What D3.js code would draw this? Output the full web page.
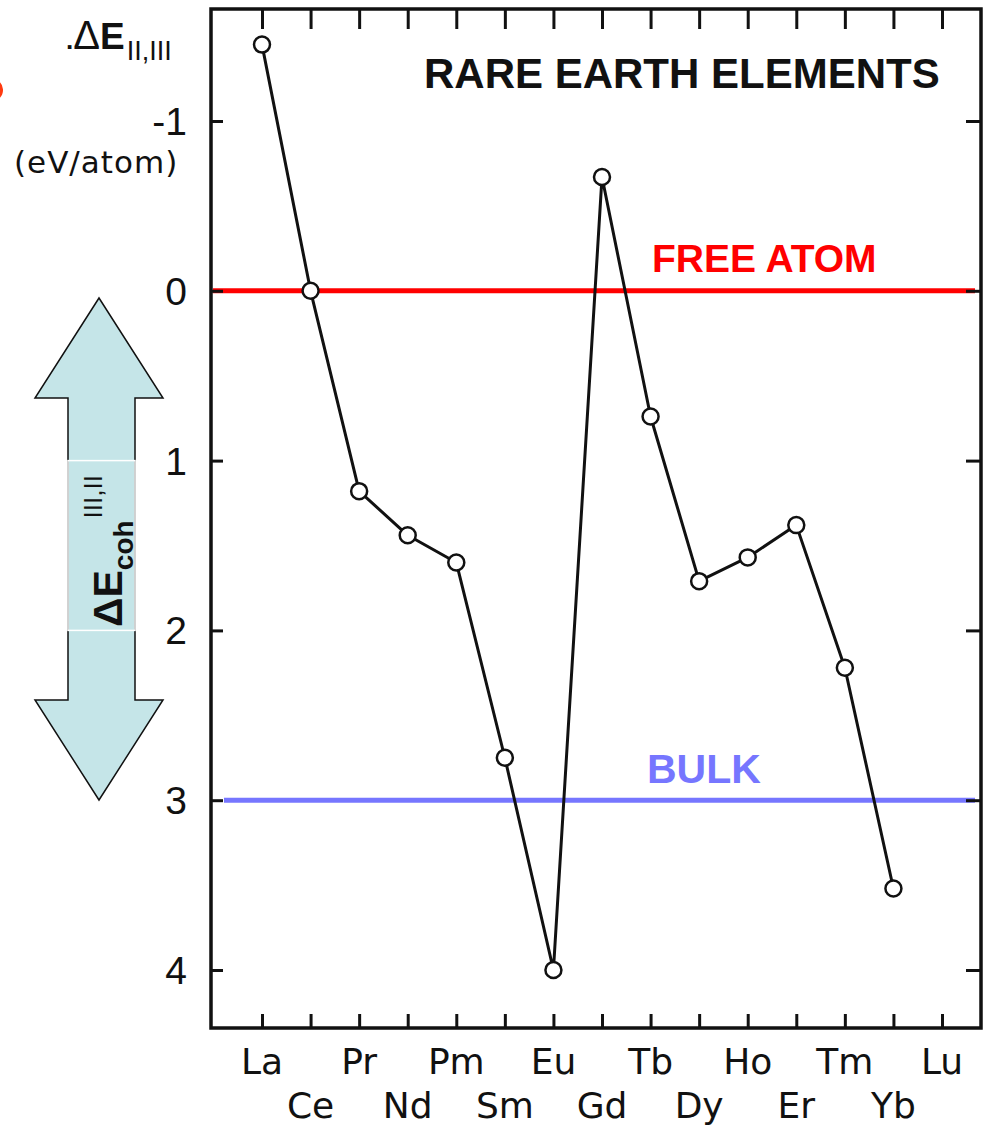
<!DOCTYPE html>
<html>
<head>
<meta charset="utf-8">
<script src="https://cdn.jsdelivr.net/npm/d3@7"></script>
<style>
  html, body { margin: 0; padding: 0; background: #fff; }
  svg { display: block; }
</style>
</head>
<body>
<svg id="chart" width="983" height="1125"></svg>
<script>
// Lanthanide series, La → Lu
const elements = ["La","Ce","Pr","Nd","Pm","Sm","Eu","Gd","Tb","Dy","Ho","Er","Tm","Yb","Lu"];
// ΔE(II,III) in eV/atom (no value for Lu)
const deltaE = [-1.45, 0.0, 1.18, 1.44, 1.60, 2.75, 4.0, -0.67, 0.74, 1.71, 1.57, 1.38, 2.22, 3.52, null];
const yTicks = [-1, 0, 1, 2, 3, 4];
const refLevels = [
  { name: "FREE ATOM", value: 0, color: "#ff0000" },
  { name: "BULK", value: 3, color: "#7676ff" }
];

const svg = d3.select("#chart");
const frame = { left: 211, right: 981, top: 9, bottom: 1028 };

const x = d3.scalePoint().domain(elements).range([262, 942]);
const y = d3.scaleLinear().domain([-1, 4]).range([121, 970]);

const sans = "'Liberation Sans', Arial, Helvetica, sans-serif";
const round = "'DejaVu Sans', Verdana, sans-serif";

// reference levels
const [freeAtom, bulk] = refLevels;
svg.append("line")
  .attr("x1", frame.left + 2).attr("x2", 975)
  .attr("y1", y(freeAtom.value)).attr("y2", y(freeAtom.value))
  .attr("stroke", freeAtom.color).attr("stroke-width", 5);
svg.append("line")
  .attr("x1", 224).attr("x2", 975)
  .attr("y1", y(bulk.value)).attr("y2", y(bulk.value))
  .attr("stroke", bulk.color).attr("stroke-width", 5);

svg.append("text").text(freeAtom.name)
  .attr("x", 652).attr("y", 272)
  .attr("font-family", sans).attr("font-weight", "bold").attr("font-size", 39)
  .attr("fill", freeAtom.color);
svg.append("text").text(bulk.name)
  .attr("x", 647).attr("y", 783)
  .attr("font-family", sans).attr("font-weight", "bold").attr("font-size", 41)
  .attr("fill", bulk.color);

// frame
svg.append("rect")
  .attr("x", frame.left).attr("y", frame.top)
  .attr("width", frame.right - frame.left).attr("height", frame.bottom - frame.top)
  .attr("fill", "none").attr("stroke", "#111").attr("stroke-width", 3.5);

// inward ticks on all four sides
function tickAxis(axis, transform, size) {
  const g = svg.append("g").attr("transform", transform)
    .call(axis.tickSize(size).tickFormat(""));
  g.select(".domain").remove();
  g.selectAll(".tick line").attr("stroke", "#111").attr("stroke-width", 3);
  return g;
}
tickAxis(d3.axisBottom(x), `translate(0,${frame.bottom})`, -14);
tickAxis(d3.axisTop(x), `translate(0,${frame.top})`, -20);
tickAxis(d3.axisLeft(y).tickValues(yTicks), `translate(${frame.left},0)`, -12);
tickAxis(d3.axisRight(y).tickValues(yTicks), `translate(${frame.right},0)`, -15);

// y tick labels
svg.append("g").selectAll("text").data(yTicks).join("text")
  .attr("x", 187).attr("y", d => y(d)).attr("dy", "0.36em")
  .attr("text-anchor", "end")
  .attr("font-family", sans).attr("font-size", 39).attr("fill", "#111")
  .text(d => d);

// category labels, staggered in two rows
svg.append("g").selectAll("text").data(elements).join("text")
  .attr("x", d => x(d))
  .attr("y", (d, i) => i % 2 === 0 ? 1074 : 1118)
  .attr("text-anchor", "middle")
  .attr("font-family", round).attr("font-size", 36).attr("fill", "#111")
  .text(d => d);

// series
const pts = elements.map((e, i) => ({ e, v: deltaE[i] })).filter(d => d.v !== null);
svg.append("path").datum(pts)
  .attr("d", d3.line().x(d => x(d.e)).y(d => y(d.v)))
  .attr("fill", "none").attr("stroke", "#111").attr("stroke-width", 3)
  .attr("stroke-linejoin", "round");
svg.append("g").selectAll("circle").data(pts).join("circle")
  .attr("cx", d => x(d.e)).attr("cy", d => y(d.v)).attr("r", 8)
  .attr("fill", "#fff").attr("stroke", "#111").attr("stroke-width", 2.5);

// title
svg.append("text").text("RARE EARTH ELEMENTS")
  .attr("x", 424).attr("y", 88)
  .attr("font-family", sans).attr("font-weight", "bold").attr("font-size", 42)
  .attr("fill", "#111");

// y-axis label
const yl = svg.append("text").attr("x", 66).attr("y", 49)
  .attr("font-family", sans).attr("fill", "#111");
yl.append("tspan").text(".").attr("font-size", 26).attr("font-weight", "bold");
yl.append("tspan").text("Δ").attr("font-size", 40);
yl.append("tspan").text("E").attr("font-size", 37).attr("font-weight", "bold");
yl.append("tspan").text("II,III").attr("font-size", 27).attr("dy", 11).attr("dx", 2);

svg.append("text").text("(eV/atom)")
  .attr("x", 14).attr("y", 173)
  .attr("font-family", round).attr("font-size", 31).attr("letter-spacing", 1)
  .attr("fill", "#111");

// double-headed arrow for the cohesive energy difference
const arrowPts = [[99,298],[163,398],[135,398],[135,700],[163,700],[99,800],[35,700],[68,700],[68,398],[35,398]];
svg.append("path")
  .attr("d", d3.line()(arrowPts) + "Z")
  .attr("fill", "#c5e5e8").attr("stroke", "#111").attr("stroke-width", 1.5);
svg.append("rect")
  .attr("x", 68).attr("y", y(1)).attr("width", 67).attr("height", y(2) - y(1))
  .attr("fill", "none").attr("stroke", "#fff").attr("stroke-width", 1.5);
const al = svg.append("text")
  .attr("transform", "translate(122,627) rotate(-90)")
  .attr("font-family", sans).attr("font-weight", "bold").attr("fill", "#111");
al.append("tspan").text("ΔE").attr("font-size", 41);
al.append("tspan").text("coh").attr("font-size", 28).attr("dy", 11);
al.append("tspan").text("III,II").attr("font-size", 26).attr("font-weight", "normal").attr("dy", -31).attr("dx", 2);

// small red mark at the left edge
svg.append("path")
  .attr("d", d3.arc()({ innerRadius: 8, outerRadius: 11, startAngle: 0.4, endAngle: 2.6 }))
  .attr("transform", "translate(-8,90)")
  .attr("fill", "#ff3a10");
</script>
</body>
</html>
